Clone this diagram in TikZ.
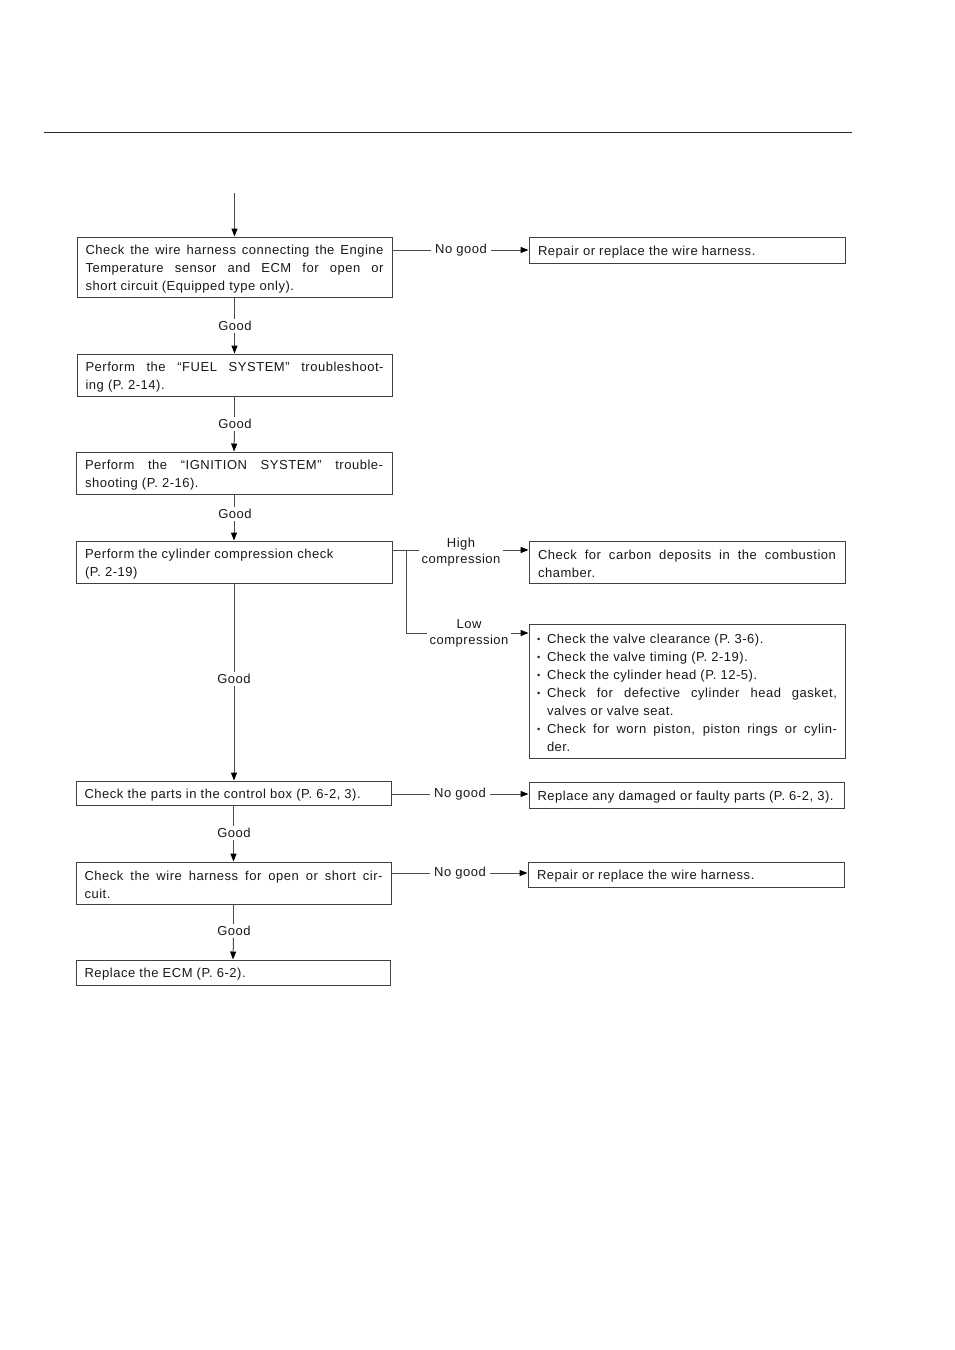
\documentclass[tikz,border=0pt]{standalone}
\usepackage{fontspec}
\setmainfont[LetterSpace=4]{Liberation Sans}
\usetikzlibrary{arrows.meta}
\newcommand{\fsz}{\fontsize{13}{18}\selectfont}
\newcommand{\fszl}{\fontsize{13}{16}\selectfont}
\newcommand{\itm}[1]{\par\noindent\hangindent=10pt\hangafter=1\makebox[10pt][l]{\raisebox{0.2ex}{\scalebox{0.7}{\textbullet}}}#1}
\newcommand{\bt}[2][298pt]{\raisebox{-2pt}[\height][\depth]{\parbox{#1}{#2}}}
\newcommand{\btl}[2][298pt]{\raisebox{-2pt}[\height][\depth]{\parbox{#1}{\raggedright #2}}}
\begin{document}
\begin{tikzpicture}[x=1pt,y=-1pt,
  box/.style={draw=black!75, line width=0.95pt, rectangle, inner sep=0pt,
    font=\fsz, text=black!90},
  lab/.style={font=\fsz, text=black!90, inner xsep=4pt, inner ysep=2pt},
  llab/.style={font=\fszl, text=black!90, inner xsep=2pt, inner ysep=1pt, align=center},
  conn/.style={draw=black!70, line width=1pt},
  arr/.style={conn, -{Triangle[length=8pt,width=6pt,black]}}]
\fill[white] (0,0) rectangle (954,1350);
\useasboundingbox (0,0) rectangle (954,1350);
% header rule
\draw[line width=1pt, black!85] (44,132) -- (852,132);

% left column
\node[box, minimum width=315pt, minimum height=60pt] (b1) at (234.5,267)
  {\bt{Check the wire harness connecting the Engine\linebreak Temperature sensor and ECM for open or\linebreak short circuit (Equipped type only).}};
\node[box, minimum width=315pt, minimum height=42pt] (b2) at (234.5,375)
  {\bt{Perform the ``FUEL SYSTEM'' troubleshoot-\linebreak ing (P. 2-14).}};
\node[box, minimum width=316pt, minimum height=42pt] (b3) at (234,473)
  {\bt{Perform the ``IGNITION SYSTEM'' trouble-\linebreak shooting (P. 2-16).}};
\node[box, minimum width=316pt, minimum height=42pt] (b4) at (234,562)
  {\btl{Perform the cylinder compression check\\(P. 2-19)}};
\node[box, minimum width=315pt, minimum height=24pt] (b5) at (233.5,793)
  {\btl{Check the parts in the control box (P. 6-2, 3).}};
\node[box, minimum width=315pt, minimum height=42pt] (b6) at (233.5,883)
  {\bt{Check the wire harness for open or short cir-\linebreak cuit.}};
\node[box, minimum width=314pt, minimum height=25pt] (b7) at (233,972.5)
  {\btl[297pt]{Replace the ECM (P. 6-2).}};

% right column
\node[box, minimum width=316pt, minimum height=26pt] (r1) at (687,250)
  {\btl{Repair or replace the wire harness.}};
\node[box, minimum width=316pt, minimum height=42pt] (r2) at (687,562)
  {\bt{Check for carbon deposits in the combustion\linebreak chamber.}};
\node[box, minimum width=316pt, minimum height=134pt] (r3) at (687,691)
  {\bt[300pt]{\itm{Check the valve clearance (P. 3-6).}
   \itm{Check the valve timing (P. 2-19).}
   \itm{Check the cylinder head (P. 12-5).}
   \itm{Check for defective cylinder head gasket,\linebreak valves or valve seat.}
   \itm{Check for worn piston, piston rings or cylin-\linebreak der.}}};
\node[box, minimum width=315pt, minimum height=26pt] (r4) at (686.5,795)
  {\btl{Replace any damaged or faulty parts (P. 6-2, 3).}};
\node[box, minimum width=316pt, minimum height=25pt] (r5) at (686,874.5)
  {\btl{Repair or replace the wire harness.}};

% labels
\node[lab] (g1) at (235,326) {Good};
\node[lab] (g2) at (235,424) {Good};
\node[lab] (g3) at (235,514) {Good};
\node[lab] (g4) at (234,679) {Good};
\node[lab] (g5) at (234,833) {Good};
\node[lab] (g6) at (234,931) {Good};
\node[lab] (ng1) at (461,250) {No good};
\node[lab] (ng2) at (460,794) {No good};
\node[lab] (ng3) at (460,873) {No good};
\node[llab] (hc) at (461,552.5) {High\\compression};
\node[llab] (lc) at (469,633.5) {Low\\compression};

% connectors
\coordinate (start) at (234.5,193);
\draw[arr] (start) -- (b1.north);
\draw[conn] (b1.south) -- (b1.south |- g1.north);
\draw[arr] (g1.south -| b1.south) -- (b2.north);
\draw[conn] (b2.south) -- (b2.south |- g2.north);
\draw[arr] (g2.south -| b2.south) -- (b3.north);
\draw[conn] (b3.south) -- (b3.south |- g3.north);
\draw[arr] (g3.south -| b3.south) -- (b4.north);
\draw[conn] (b4.south) -- (b4.south |- g4.north);
\draw[arr] (g4.south -| b4.south) -- (b4.south |- b5.north);
\draw[conn] (b5.south) -- (b5.south |- g5.north);
\draw[arr] (g5.south -| b5.south) -- (b6.north);
\draw[conn] (b6.south) -- (b6.south |- g6.north);
\draw[arr] (g6.south -| b6.south) -- (b7.north);

\draw[conn] (b1.east |- ng1.west) -- (ng1.west);
\draw[arr] (ng1.east) -- (ng1.east -| r1.west);
\draw[conn] (b5.east |- ng2.west) -- (ng2.west);
\draw[arr] (ng2.east) -- (ng2.east -| r4.west);
\draw[conn] (b6.east |- ng3.west) -- (ng3.west);
\draw[arr] (ng3.east) -- (ng3.east -| r5.west);

\coordinate (br) at (406,550);
\coordinate (bl) at (406,633);
\draw[conn] (b4.east |- br) -- (hc.west |- br);
\draw[arr] (hc.east |- br) -- (br -| r2.west);
\draw[conn] (br) -- (bl) -- (lc.west |- bl);
\draw[arr] (lc.east |- bl) -- (bl -| r3.west);
\end{tikzpicture}
\end{document}
